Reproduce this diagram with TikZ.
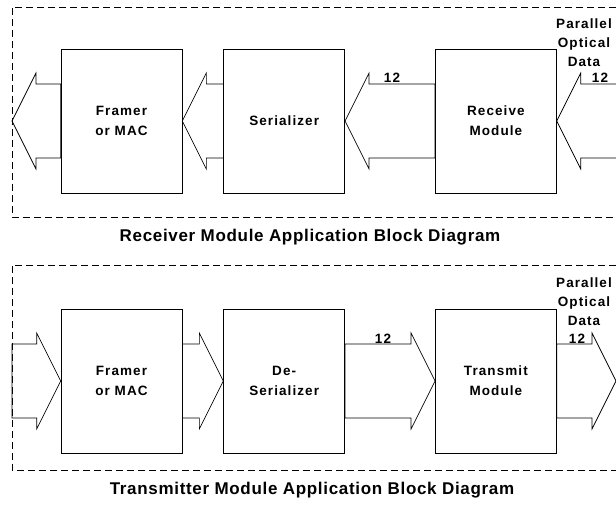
\documentclass[tikz,border=0pt]{standalone}
\usepackage{fontspec}
\setmainfont{Liberation Sans}
\newfontfamily\lblfont[LetterSpace=8]{Liberation Sans}
\newfontfamily\ttlfont[LetterSpace=4]{Liberation Sans}
\usetikzlibrary{calc,positioning}

\begin{document}
\begin{tikzpicture}[x=1pt,y=1pt,line width=0.7pt,
    block/.style={draw,minimum width=121pt,minimum height=144pt,align=center,
        font=\lblfont\bfseries\fontsize{13.5}{20}\selectfont},
    lbl/.style={align=center,inner sep=0pt,
        font=\lblfont\bfseries\fontsize{13.5}{19}\selectfont},
    ttl/.style={inner sep=0pt,font=\ttlfont\bfseries\fontsize{17}{20}\selectfont},
    frame/.style={dash pattern=on 7pt off 4pt},
    % bus arrow, tip at the target
    busL/.style={to path={
        ($(\tikztostart)+(0,37)$) -- ($(\tikztotarget)+(24,37)$)
        -- ($(\tikztotarget)+(24,48)$) -- (\tikztotarget)
        -- ($(\tikztotarget)+(24,-48)$) -- ($(\tikztotarget)+(24,-37)$)
        -- ($(\tikztostart)+(0,-37)$) -- cycle}},
    busR/.style={to path={
        ($(\tikztostart)+(0,37)$) -- ($(\tikztotarget)+(-24,37)$)
        -- ($(\tikztotarget)+(-24,48)$) -- (\tikztotarget)
        -- ($(\tikztotarget)+(-24,-48)$) -- ($(\tikztotarget)+(-24,-37)$)
        -- ($(\tikztostart)+(0,-37)$) -- cycle}}]

\useasboundingbox (0,0) rectangle (616,-504);
\clip (0,0) rectangle (616,-504);

% Receiver frame.
\draw[frame] (616,-7) -- (12,-7) -- (12,-217) -- (616,-217);

% Receiver blocks.
\node[block] (framerR) at (121.5,-121) {Framer\\or MAC};
\node[block,right=41pt of framerR] (serR) {Serializer};
\node[block,right=90pt of serR] (recvR) {Receive\\Module};

% Receiver bus ends.
\coordinate (outR) at (12,-121);
\coordinate (inR) at (630,-121);

% Receiver buses.
\draw (framerR.west) to[busL] (outR);
\draw (serR.west) to[busL] (framerR.east);
\draw (recvR.west) to[busL] (serR.east);
\draw (inR) to[busL] (recvR.east);

% Receiver labels.
\node[lbl] (w12a) at (392,-78) {12};
\node[lbl] (w12b) at (600,-78) {12};
\node[lbl] (podR) at (584,-43) {Parallel\\Optical\\Data};
\node[ttl] (ttlR) at (310,-237) {Receiver Module Application Block Diagram};

% Transmitter frame.
\draw[frame] (616,-265) -- (12,-265) -- (12,-470) -- (616,-470);

% Transmitter blocks.
\node[block] (framerT) at (121.5,-381) {Framer\\or MAC};
\node[block,right=41pt of framerT] (deserT) {De-\\Serializer};
\node[block,right=90pt of deserT] (xmitT) {Transmit\\Module};

% Transmitter bus ends.
\coordinate (inT) at (12,-381);
\coordinate (outT) at (616,-381);

% Transmitter buses.
\draw (inT) to[busR] (framerT.west);
\draw (framerT.east) to[busR] (deserT.west);
\draw (deserT.east) to[busR] (xmitT.west);
\draw (xmitT.east) to[busR] (outT);

% Transmitter labels.
\node[lbl] (w12c) at (383,-339) {12};
\node[lbl] (w12d) at (577,-339) {12};
\node[lbl] (podT) at (584,-302) {Parallel\\Optical\\Data};
\node[ttl] (ttlT) at (312,-490) {Transmitter Module Application Block Diagram};

\end{tikzpicture}
\end{document}
